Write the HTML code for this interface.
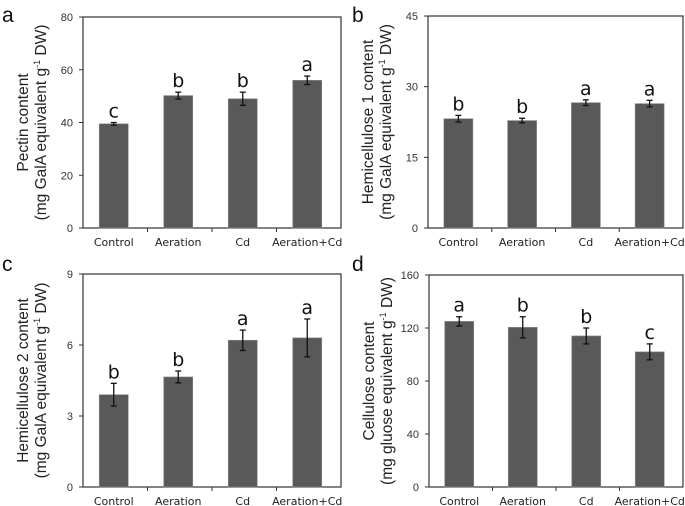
<!DOCTYPE html>
<html><head><meta charset="utf-8"><style>
body{margin:0;background:#fff;}
svg{display:block;font-family:"Liberation Sans",sans-serif;}
.tick{font-size:11px;fill:#333;}
.xl{font-size:11px;fill:#222;font-family:"DejaVu Sans","Liberation Sans",sans-serif;}
.yt{font-size:15.5px;fill:#222;}
.sig{font-size:19px;fill:#111;font-family:"DejaVu Sans","Liberation Sans",sans-serif;}
.pl{font-size:21px;fill:#111;}
</style></head><body>
<svg id="fig" width="685" height="506" viewBox="0 0 685 506"></svg>
<script>
const categories=["Control","Aeration","Cd","Aeration+Cd"];
const pectinValues=[39.5,50.2,49,56];
const pectinErrors=[0.5,1.3,2.5,1.6];
const pectinLetters=["c","b","b","a"];
const pectinTicks=[0,20,40,60,80];
const hemi1Values=[23.2,22.8,26.6,26.4];
const hemi1Errors=[0.7,0.5,0.6,0.7];
const hemi1Letters=["b","b","a","a"];
const hemi1Ticks=[0,15,30,45];
const hemi2Values=[3.9,4.65,6.2,6.3];
const hemi2Errors=[0.48,0.25,0.43,0.8];
const hemi2Letters=["b","b","a","a"];
const hemi2Ticks=[0,3,6,9];
const celluloseValues=[125,120.5,114,102];
const celluloseErrors=[3.5,8,6,6];
const celluloseLetters=["a","b","b","c"];
const celluloseTicks=[0,40,80,120,160];

const NS="http://www.w3.org/2000/svg";
const svg=document.getElementById('fig');
function mk(tag,attrs,parent,text){const e=document.createElementNS(NS,tag);for(const k in attrs)e.setAttribute(k,attrs[k]);if(text!==undefined)e.textContent=text;(parent||svg).appendChild(e);return e;}

function panel(p){
  const g=mk('g',{});
  
  
  const max=p.ticks[p.ticks.length-1];
  const y=v=>p.bottom-(v/max)*(p.bottom-p.top);
  const step=(p.right-p.left)/4;
  const x=i=>p.left+step*(i+0.5)-1.5;
  const box=mk('rect',{x:p.left,y:p.top,width:p.right-p.left,height:p.bottom-p.top,fill:'none',stroke:'#333','stroke-width':1.2},g);
  
  
  p.ticks.forEach(t=>{
    mk('line',{x1:p.left-4,x2:p.left,y1:y(t),y2:y(t),stroke:'#333'},g);
    const tl=mk('text',{x:p.left-10,y:y(t)+4,'text-anchor':'end',class:'tick'},g,String(t));
    
    
  });
  for(let i=1;i<4;i++) mk('line',{x1:p.left+step*i,x2:p.left+step*i,y1:p.bottom,y2:p.bottom+4,stroke:'#333'},g);
  categories.forEach((c,i)=>{
    const v=p.values[i],e=p.errors[i],cx=x(i);
    const b=mk('rect',{x:cx-14.5,y:y(v),width:29,height:p.bottom-y(v),fill:'#595959',stroke:'#8a8a8a','stroke-width':0.6},g);
    
    
    const eg=mk('g',{stroke:'#111','stroke-width':1.3},g);
    
    
    mk('line',{x1:cx,x2:cx,y1:y(v+e),y2:y(v-e)},eg);
    mk('line',{x1:cx-3,x2:cx+3,y1:y(v+e),y2:y(v+e)},eg);
    mk('line',{x1:cx-3,x2:cx+3,y1:y(v-e),y2:y(v-e)},eg);
    const s=mk('text',{x:cx,y:y(v+e)-5,'text-anchor':'middle',class:'sig'},g,p.letters[i]);
    
    
    const xl=mk('text',{x:cx,y:p.bottom+18,'text-anchor':'middle',class:'xl'},g,c);
    
    
  });
  const cy=(p.top+p.bottom)/2;
  const t1=mk('text',{x:0,y:0,'text-anchor':'middle',class:'yt',transform:`translate(${p.left-55},${cy}) rotate(-90)`},g,p.title1);
  
  
  const t2=mk('text',{x:0,y:0,'text-anchor':'middle',class:'yt',transform:`translate(${p.left-37},${cy}) rotate(-90)`},g);
  
  
  t2.appendChild(document.createTextNode(p.unitA));
  mk('tspan',{'font-size':'9px',dy:'-6'},t2,'-1');
  mk('tspan',{dy:'6'},t2,' DW)');
  const pl=mk('text',{x:p.lx,y:p.ly,class:'pl'},g,p.id);
  
  
}
panel({id:'a',left:83,right:341,top:17,bottom:228,ticks:pectinTicks,values:pectinValues,errors:pectinErrors,letters:pectinLetters,title1:'Pectin content',unitA:'(mg GalA equivalent g',lx:2,ly:22});
panel({id:'b',left:428,right:683,top:16,bottom:228,ticks:hemi1Ticks,values:hemi1Values,errors:hemi1Errors,letters:hemi1Letters,title1:'Hemicellulose 1 content',unitA:'(mg GalA equivalent g',lx:352,ly:22});
panel({id:'c',left:83,right:341,top:274,bottom:487,ticks:hemi2Ticks,values:hemi2Values,errors:hemi2Errors,letters:hemi2Letters,title1:'Hemicellulose 2 content',unitA:'(mg GalA equivalent g',lx:2,ly:271});
panel({id:'d',left:429,right:683,top:275,bottom:487,ticks:celluloseTicks,values:celluloseValues,errors:celluloseErrors,letters:celluloseLetters,title1:'Cellulose  content',unitA:'(mg gluose equivalent g',lx:352,ly:271});
</script>
</body></html>
